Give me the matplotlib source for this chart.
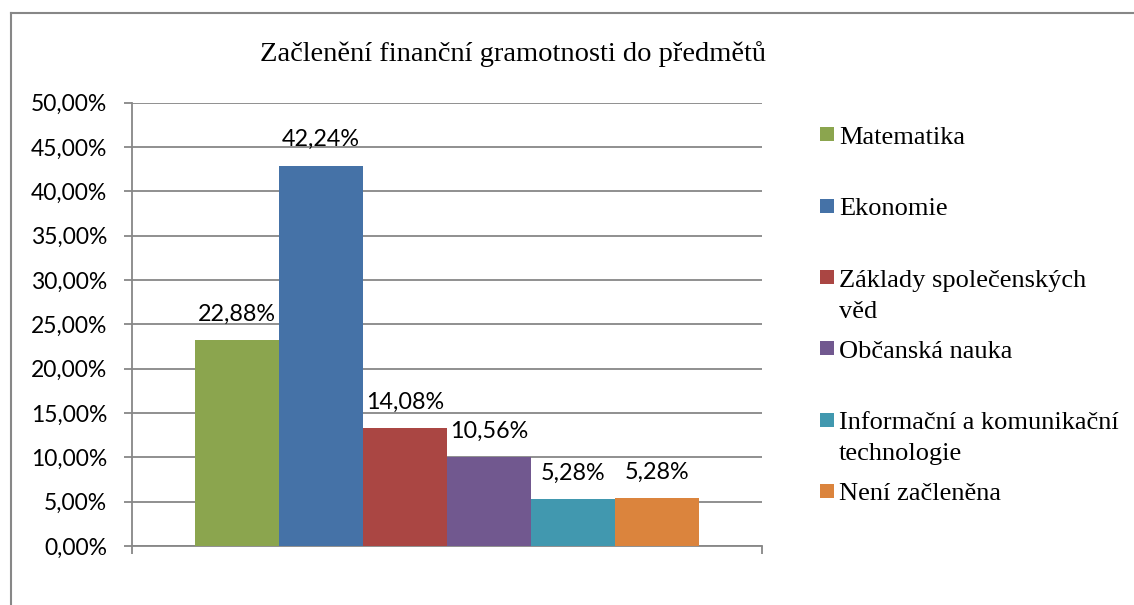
import matplotlib
matplotlib.use("Agg")
import matplotlib.pyplot as plt
from matplotlib.patches import Rectangle
from matplotlib.lines import Line2D
from matplotlib.ticker import FuncFormatter, MultipleLocator

# ---- data ----
title = "Začlenění finanční gramotnosti do předmětů"
series = ["Matematika", "Ekonomie", "Základy společenských\nvěd", "Občanská nauka",
          "Informační a komunikační\ntechnologie", "Není začleněna"]
values = [23.2, 42.9, 13.3, 10.0, 5.3, 5.4]          # bar heights as drawn (%)
labels = ["22,88%", "42,24%", "14,08%", "10,56%", "5,28%", "5,28%"]  # data labels as printed
colors = ["#8BA54E", "#4572A7", "#AA4643", "#71588F", "#4198AF", "#DB843D"]

W, H, DPI = 1134, 605, 100
fig = plt.figure(figsize=(W / DPI, H / DPI), dpi=DPI)
fig.patch.set_facecolor("white")

def fx(px):
    return px / W

def fy(py):
    return 1 - py / H

ax = fig.add_axes([fx(132.3), fy(546), fx(762) - fx(132.3), fy(102.7) - fy(546)])

grey = "#878787"
sans = "Lato"
serif = "Liberation Serif"

n = len(values)
gap = 0.1
bw = (1 - 2 * gap) / n
for i, (v, lab, c) in enumerate(zip(values, labels, colors)):
    xc = gap + bw * (i + 0.5)
    ax.bar(xc, v, width=bw, color=c, zorder=3, linewidth=0)
    ax.annotate(lab, (xc, v), xytext=(0, 26 * 72 / DPI), textcoords="offset points",
                ha="center", va="center", fontsize=16.8, family=sans, color="black", zorder=4)

ax.set_xlim(0, 1)
ax.set_ylim(0, 50)
ax.yaxis.set_major_locator(MultipleLocator(5))
ax.yaxis.set_major_formatter(FuncFormatter(lambda v, p: f"{v:.2f}%".replace(".", ",")))
ax.set_xticks([0, 1])
ax.set_xticklabels(["", ""])
ax.grid(axis="y", color=grey, linewidth=1.3, zorder=0)
ax.set_axisbelow(True)
for s in ["top", "right"]:
    ax.spines[s].set_visible(False)
for s in ["left", "bottom"]:
    ax.spines[s].set_color(grey)
    ax.spines[s].set_linewidth(1.3)
ax.tick_params(axis="y", direction="out", length=8 * 72 / DPI, width=1.3, color=grey,
               pad=17 * 72 / DPI, labelsize=16.5)
ax.tick_params(axis="x", direction="out", length=8 * 72 / DPI, width=1.3, color=grey)
for t in ax.get_yticklabels():
    t.set_family(sans)

# title
fig.text(fx(513.5), fy(61), title, ha="center", va="baseline", fontsize=20.5,
         family=serif, color="black")

# legend (Excel-style, markers aligned to first line)
first_centers = [134.2, 205.5, 277.0, 348.3, 419.7, 491.0]
line_gap = 31
for name, c, yc in zip(series, colors, first_centers):
    fig.add_artist(Rectangle((fx(820), fy(yc + 7)), fx(14), fy(yc - 7) - fy(yc + 7),
                             transform=fig.transFigure, facecolor=c, edgecolor="none"))
    for k, line in enumerate(name.split("\n")):
        fig.text(fx(839), fy(yc + 9.5 + k * line_gap), line, ha="left", va="baseline",
                 fontsize=19, family=serif, color="black")

# outer chart border (top and left visible)
fig.add_artist(Line2D([fx(10.5), 1.0], [fy(12.5), fy(12.5)], transform=fig.transFigure,
                      color=grey, linewidth=1.5))
fig.add_artist(Line2D([fx(10.5), fx(10.5)], [fy(12.5), 0.0], transform=fig.transFigure,
                      color=grey, linewidth=1.5))

fig.savefig("out.png", dpi=DPI)
